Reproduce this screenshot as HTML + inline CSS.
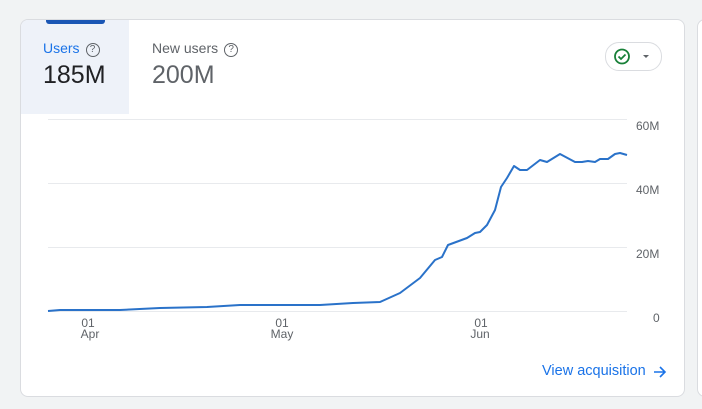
<!DOCTYPE html>
<html><head><style>
body{margin:0;width:702px;height:409px;background:#f1f3f4;position:relative;overflow:hidden;font-family:"Liberation Sans",sans-serif}
.card{position:absolute;left:20px;top:19px;width:663px;height:376px;background:#fff;border:1px solid #dadce0;border-radius:8px;overflow:hidden}
.card2{position:absolute;left:697px;top:19px;width:40px;height:376px;background:#fff;border:1px solid #dadce0;border-radius:8px}
.tab{position:absolute;left:0;top:0;width:108px;height:94px;background:#eef2f9}
.bar{position:absolute;left:25px;top:0;width:59px;height:4px;background:#1a56b5;border-radius:0 0 3px 3px}
.lbl{position:absolute;font-size:14px}
.val{position:absolute;font-size:25px}
.q{display:inline-block;width:12px;height:12px;border:1px solid #5f6368;border-radius:50%;font-size:10px;line-height:12px;text-align:center;margin-left:6px;vertical-align:1px;color:#5f6368}
.pill{position:absolute;left:584px;top:22px;width:55px;height:27px;border:1px solid #dadce0;border-radius:14px}
.link{position:absolute;left:521px;top:343px;color:#1a73e8;font-size:14.5px}
</style></head><body>
<div class="card">
<div class="tab"><div class="bar"></div></div>
<div class="lbl" style="left:22px;top:20px;color:#1a73e8">Users<span class="q">?</span></div>
<div class="val" style="left:22px;top:41px;color:#202124">185M</div>
<div class="lbl" style="left:131px;top:20px;color:#5f6368">New users<span class="q">?</span></div>
<div class="val" style="left:131px;top:41px;color:#5f6368">200M</div>
<div class="pill">
<svg width="55" height="27" style="position:absolute;left:0;top:0"><circle cx="16" cy="13.5" r="7" fill="none" stroke="#188038" stroke-width="1.8"/><path d="M12.5 13.5l2.5 2.5 4.5-4.5" fill="none" stroke="#188038" stroke-width="1.8"/><path d="M37 12h6l-3 3z" fill="#5f6368"/></svg>
</div>
<div class="link">View acquisition</div>
<svg width="14" height="14" style="position:absolute;left:632px;top:345px"><path d="M1 7h11M7 2l5 5-5 5" fill="none" stroke="#1a73e8" stroke-width="1.6"/></svg>
</div>
<div class="card2"></div>
<svg width="702" height="409" style="position:absolute;left:0;top:0">
<g stroke="#e8eaed" stroke-width="1">
<line x1="48" y1="119.5" x2="627" y2="119.5"/><line x1="48" y1="183.5" x2="627" y2="183.5"/><line x1="48" y1="247.5" x2="627" y2="247.5"/><line x1="48" y1="311.5" x2="627" y2="311.5"/>
</g>
<g font-size="12" fill="#5f6368" font-family="Liberation Sans,sans-serif">
<text x="636" y="130">60M</text><text x="636" y="194">40M</text><text x="636" y="258">20M</text><text x="653" y="322">0</text>
<text x="88" y="327" text-anchor="middle">01</text><text x="90" y="338" text-anchor="middle">Apr</text>
<text x="282" y="327" text-anchor="middle">01</text><text x="282" y="338" text-anchor="middle">May</text>
<text x="481" y="327" text-anchor="middle">01</text><text x="480" y="338" text-anchor="middle">Jun</text>
</g>
<polyline fill="none" stroke="#2a72c9" stroke-width="2" stroke-linejoin="round" points="48,311 60,310 120,310 160,308 207,307 240,305 320,305 353,303 380,302 400,293 420,278 435,260 442,257 448,245 467,238 475,233 480,232 487,225 495,210 501,187 507,178 514,166 520,170 527,170 540,160 547,162 560,154 575,162 582,162 588,161 595,162 600,159 608,159 615,154 620,153 627,155"/>
</svg>
</body></html>
